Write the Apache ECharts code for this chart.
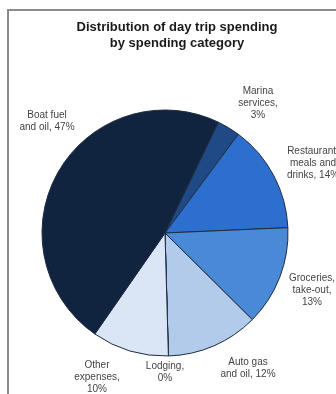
<!DOCTYPE html>
<html>
<head>
<meta charset="utf-8">
<script src="https://cdn.jsdelivr.net/npm/echarts@6/dist/echarts.min.js"></script>
<style>html,body{margin:0;padding:0;background:#fff}#c{width:336px;height:394px}</style>
</head>
<body>
<div id="c"></div>
<script>
const titleText = 'Distribution of day trip spending\nby spending category';
const categories = ['Marina\nservices,\n', 'Restaurant,\nmeals and\ndrinks, ', 'Groceries,\ntake-out,\n', 'Auto gas\nand oil, ', 'Lodging,\n', 'Other\nexpenses,\n', 'Boat fuel\nand oil, '];
const values = [3, 14, 13, 12, 0, 10, 47];
const colors = ['#1f4a86', '#2d6fcc', '#4a89d6', '#b3cbea', '#c8d8ef', '#dae5f5', '#10233f'];
const labelPos = [[258, 103], [313, 163], [312, 290], [248, 368], [165, 372], [97, 377], [47, 121]];

const chart = echarts.init(document.getElementById('c'), null, {renderer: 'canvas'});
chart.setOption({
  animation: false,
  backgroundColor: '#fff',
  title: {
    text: titleText, left: 172, top: 15, textAlign: 'center',
    textStyle: {fontFamily: 'Liberation Sans, Arial, sans-serif', fontSize: 13, fontWeight: 'bold', color: '#1a1a1a', lineHeight: 15.5}
  },
  graphic: [{
    type: 'rect', shape: {x: 8, y: 10, width: 420, height: 420},
    style: {fill: 'none', stroke: '#8c8c8c', lineWidth: 2}, z: -1
  }],
  series: [{
    type: 'pie',
    center: [165, 233],
    radius: [0, 123],
    startAngle: 64.3,
    clockwise: true,
    data: categories.map((c, i) => ({name: c, value: values[i], itemStyle: {color: colors[i]}})),
    itemStyle: {borderColor: '#1e2c42', borderWidth: 1},
    label: {
      show: true, position: 'outside', overflow: 'none', alignTo: 'none', bleedMargin: 0,
      formatter: p => p.name + p.value + '%',
      fontFamily: 'Liberation Sans, Arial, sans-serif', fontSize: 10, color: '#444', lineHeight: 11.8, align: 'center'
    },
    labelLine: {show: false},
    avoidLabelOverlap: false,
    labelLayout: p => ({x: labelPos[p.dataIndex][0], y: labelPos[p.dataIndex][1], align: 'center', verticalAlign: 'middle', hideOverlap: false, moveOverlap: null}),
    emphasis: {disabled: true}
  }]
});
</script>
</body>
</html>
